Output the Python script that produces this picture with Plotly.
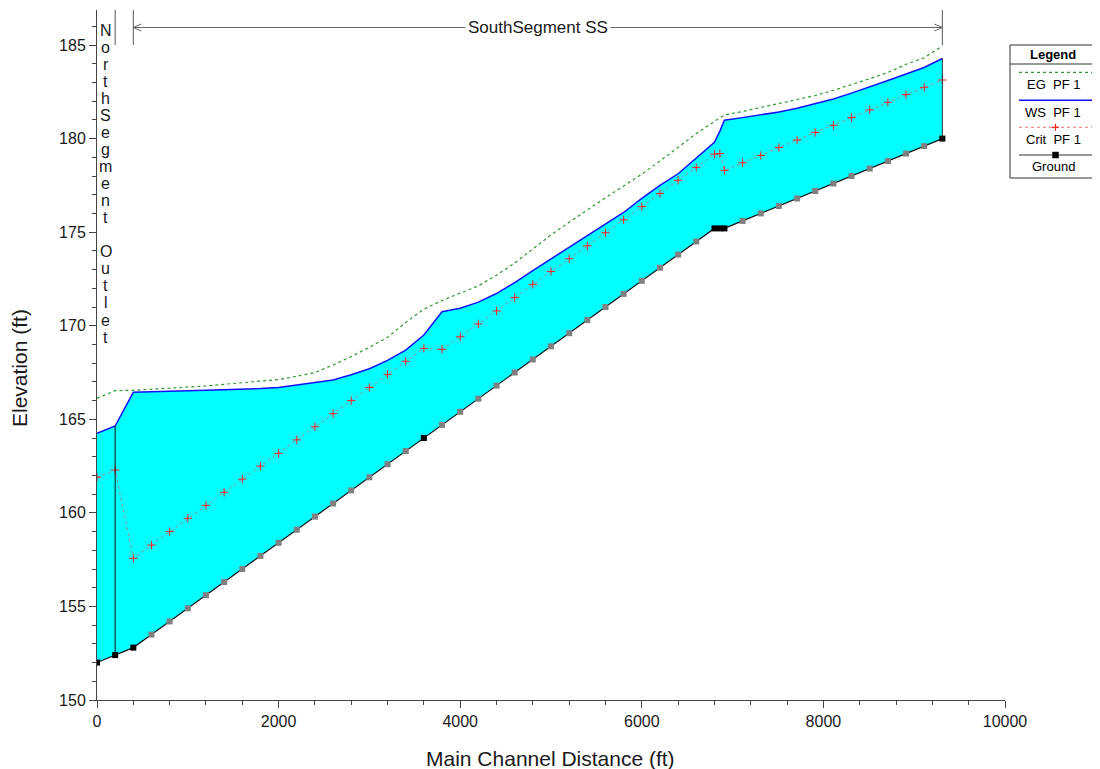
import plotly.graph_objects as go

# ---------------- data ----------------
distance = [0, 200, 400, 600, 800, 1000, 1200, 1400, 1600, 1800, 2000, 2200, 2400, 2600,
            2800, 3000, 3200, 3400, 3600, 3800, 4000, 4200, 4400, 4600, 4800, 5000, 5200,
            5400, 5600, 5800, 6000, 6200, 6400, 6600, 6800, 6860, 6910, 7110, 7310, 7510,
            7710, 7910, 8110, 8310, 8510, 8710, 8910, 9110, 9310]

ground = [152.0, 152.4, 152.8, 153.5, 154.2, 154.9, 155.6, 156.3, 157.0, 157.7, 158.4, 159.1,
          159.8, 160.5, 161.2, 161.9, 162.6, 163.3, 164.0, 164.7, 165.4, 166.1, 166.8, 167.5,
          168.2, 168.9, 169.6, 170.3, 171.0, 171.7, 172.4, 173.1, 173.8, 174.5, 175.2, 175.2,
          175.2, 175.6, 176.0, 176.4, 176.8, 177.2, 177.6, 178.0, 178.4, 178.8, 179.2, 179.6,
          180.0]

ws = [164.25, 164.64, 166.44, 166.48, 166.51, 166.53, 166.55, 166.57, 166.6, 166.64, 166.7,
      166.82, 166.95, 167.1, 167.38, 167.7, 168.15, 168.7, 169.5, 170.75, 170.93, 171.26,
      171.72, 172.3, 172.95, 173.57, 174.17, 174.77, 175.4, 176.05, 176.8, 177.5, 178.12,
      178.95, 179.8, 180.4, 180.98, 181.12, 181.25, 181.42, 181.62, 181.85, 182.12, 182.43,
      182.75, 183.1, 183.45, 183.8, 184.28]

eg = [166.12, 166.53, 166.55, 166.6, 166.65, 166.72, 166.78, 166.87, 166.95, 167.03, 167.12,
      167.3, 167.5, 167.9, 168.35, 168.85, 169.38, 170.18, 170.88, 171.35, 171.72, 172.13,
      172.7, 173.35, 174.1, 174.85, 175.53, 176.2, 176.84, 177.47, 178.1, 178.8, 179.55,
      180.27, 180.92, 181.1, 181.26, 181.45, 181.66, 181.85, 182.05, 182.3, 182.58, 182.87,
      183.2, 183.53, 183.97, 184.32, 184.95]

crit = [161.9, 162.29, 157.57, 158.28, 159.0, 159.71, 160.4, 161.1, 161.8, 162.5, 163.18,
        163.9, 164.6, 165.3, 166.0, 166.7, 167.4, 168.1, 168.79, 168.74, 169.41, 170.1,
        170.79, 171.5, 172.21, 172.9, 173.58, 174.27, 174.97, 175.66, 176.36, 177.07,
        177.77, 178.46, 179.17, 179.2, 178.3, 178.71, 179.1, 179.53, 179.92, 180.33, 180.71,
        181.12, 181.53, 181.94, 182.35, 182.74, 183.13]

named_sections = [0, 200, 400, 3600, 6800, 6860, 6910, 9310]

north_label = "NorthSegment Outlet"
north_start, north_end = 0, 200
south_label = "SouthSegment SS"
south_start, south_end = 400, 9310

legend_items = ["EG  PF 1", "WS  PF 1", "Crit  PF 1", "Ground"]

x_ticks = [0, 2000, 4000, 6000, 8000, 10000]
x_tick_text = ["0", "2000", "4000", "6000", "8000", "10000"]
y_ticks = [150, 155, 160, 165, 170, 175, 180, 185]

# ---------------- layout geometry ----------------
# page body has an 8px default margin; reference pixel coords are shifted by it
OFF = 8
W, H = 1100 - OFF, 769
PL, PR, PT, PB = 97, 1005, 10, 700          # plot area in reference pixels
PW, PH = PR - PL, PB - PT
ML, MT = PL - OFF, PT - OFF
MR = W - ML - PW
MB = H - MT - PH
Y0 = 150
YTOP = 150 + PH / 18.714

def pxp(px, py):
    return (px - PL) / PW, (PB - py) / PH

FONT = "Liberation Sans, Arial, sans-serif"
TXT = "#1a1a1a"

fig = go.Figure()

# water fill base
fig.add_trace(go.Scatter(x=distance, y=ground, mode="lines", line=dict(width=0, color="rgba(0,0,0,0)"),
                         hoverinfo="skip", showlegend=False))
fig.add_trace(go.Scatter(x=distance, y=ws, mode="lines", fill="tonexty", fillcolor="#00ffff",
                         line=dict(color="#1010ff", width=1.5), name="WS  PF 1", showlegend=False))
fig.add_trace(go.Scatter(x=distance, y=eg, mode="lines", line=dict(color="#2e9a2e", width=1.2, dash="dot"),
                         name="EG  PF 1", showlegend=False))
fig.add_trace(go.Scatter(x=distance, y=crit, mode="lines+markers",
                         line=dict(color="rgba(190,120,120,0.85)", width=1, dash="dot"),
                         marker=dict(symbol="cross-thin", size=6, line=dict(color="#ff2020", width=1)),
                         name="Crit  PF 1", showlegend=False))
fig.add_trace(go.Scatter(x=distance, y=ground, mode="lines", line=dict(color="#111111", width=1.2),
                         name="Ground", showlegend=False))
gx = [d for d in distance if d not in named_sections]
gy = [g for d, g in zip(distance, ground) if d not in named_sections]
fig.add_trace(go.Scatter(x=gx, y=gy, mode="markers",
                         marker=dict(symbol="square", size=6, color="#808080"), showlegend=False))
nx = [d for d in distance if d in named_sections]
ny = [g for d, g in zip(distance, ground) if d in named_sections]
fig.add_trace(go.Scatter(x=nx, y=ny, mode="markers",
                         marker=dict(symbol="square", size=6, color="#000000"), showlegend=False))

shapes = []
annotations = []

# junction line and right edge
i200 = distance.index(north_end)
shapes.append(dict(type="line", xref="x", yref="y", x0=north_end, x1=north_end,
                   y0=ground[i200], y1=ws[i200], line=dict(color="#111", width=1)))
shapes.append(dict(type="line", xref="x", yref="y", x0=distance[-1], x1=distance[-1],
                   y0=ground[-1], y1=ws[-1], line=dict(color="#333", width=1)))

# reach brackets
br_top, br_bot = 1.0, pxp(0, 45)[1]
for xv in (north_end, south_start, south_end):
    shapes.append(dict(type="line", xref="x", yref="paper", x0=xv, x1=xv, y0=br_top, y1=br_bot,
                       line=dict(color="#555", width=1)))
arrow_y = 150 + (PB - 27.5) / 18.714
shapes.append(dict(type="line", xref="x", yref="y", x0=south_start, x1=south_end, y0=arrow_y, y1=arrow_y,
                   line=dict(color="#666", width=1)))
ax_len = 8 * 10000 / PW
ay_len = 3.5 / 18.714
shapes.append(dict(type="path", xref="x", yref="y",
                   path=f"M {south_start+ax_len},{arrow_y+ay_len} L {south_start},{arrow_y} L {south_start+ax_len},{arrow_y-ay_len}",
                   line=dict(color="#666", width=1)))
shapes.append(dict(type="path", xref="x", yref="y",
                   path=f"M {south_end-ax_len},{arrow_y+ay_len} L {south_end},{arrow_y} L {south_end-ax_len},{arrow_y-ay_len}",
                   line=dict(color="#666", width=1)))
annotations.append(dict(x=(south_start + south_end) / 2, y=arrow_y, xref="x", yref="y", text=south_label,
                        showarrow=False, bgcolor="white", font=dict(family=FONT, size=17, color=TXT),
                        borderpad=2, xanchor="center", yanchor="middle"))

# vertical north label
for i, ch in enumerate(north_label):
    if ch == " ":
        continue
    py = 30 + i * 17.06
    annotations.append(dict(x=(north_start + north_end) / 2 - 3, y=pxp(0, py)[1], xref="x", yref="paper",
                            text=ch, showarrow=False, xanchor="center", yanchor="middle",
                            font=dict(family=FONT, size=16, color=TXT)))

# axis titles
annotations.append(dict(x=pxp(550, 0)[0], y=pxp(0, 758)[1], xref="paper", yref="paper",
                        text="Main Channel Distance (ft)", showarrow=False, xanchor="center", yanchor="middle",
                        font=dict(family=FONT, size=21, color=TXT)))
annotations.append(dict(x=pxp(19, 0)[0], y=pxp(0, 368)[1], xref="paper", yref="paper",
                        text="Elevation (ft)", showarrow=False, textangle=-90, xanchor="center", yanchor="middle",
                        font=dict(family=FONT, size=21, color=TXT)))

# manual legend
lx0, lx1, ly0, ly1 = 1010, 1096, 45, 178
a0 = pxp(lx0, ly0); a1 = pxp(lx1, ly1)
shapes.append(dict(type="rect", xref="paper", yref="paper", x0=a0[0], y0=a0[1], x1=a1[0], y1=a1[1],
                   line=dict(color="#333", width=1), fillcolor="white", layer="above"))
h = pxp(0, 64)[1]
shapes.append(dict(type="line", xref="paper", yref="paper", x0=a0[0], x1=a1[0], y0=h, y1=h,
                   line=dict(color="#333", width=1)))
cx = (lx0 + lx1) / 2
annotations.append(dict(x=pxp(cx, 0)[0], y=pxp(0, 54)[1], xref="paper", yref="paper", text="<b>Legend</b>",
                        showarrow=False, xanchor="center", yanchor="middle",
                        font=dict(family=FONT, size=13, color="#000")))
seg0, seg1 = pxp(1019, 0)[0], pxp(1093, 0)[0]
styles = [dict(color="#2e9a2e", width=1.2, dash="dot"), dict(color="#1010ff", width=1.5),
          dict(color="rgba(230,100,100,0.9)", width=1, dash="dot"), dict(color="#777", width=1.5)]
line_py = [72.3, 100.3, 127.3, 155]
text_py = [84.5, 112.5, 139.5, 166.5]
for name, st, lp, tp in zip(legend_items, styles, line_py, text_py):
    yy = pxp(0, lp)[1]
    shapes.append(dict(type="line", xref="paper", yref="paper", x0=seg0, x1=seg1, y0=yy, y1=yy, line=st))
    annotations.append(dict(x=pxp(cx, 0)[0], y=pxp(0, tp)[1], xref="paper", yref="paper", text=name,
                            showarrow=False, xanchor="center", yanchor="middle",
                            font=dict(family=FONT, size=13, color="#000")))
# crit marker in legend
mcx = 1055.5
for (dx0, dy0, dx1, dy1) in [(-3.5, 0, 3.5, 0), (0, -3.5, 0, 3.5)]:
    p0 = pxp(mcx + dx0, line_py[2] + dy0); p1 = pxp(mcx + dx1, line_py[2] + dy1)
    shapes.append(dict(type="line", xref="paper", yref="paper", x0=p0[0], y0=p0[1], x1=p1[0], y1=p1[1],
                       line=dict(color="#ff2020", width=1.2)))
# ground marker in legend
p0 = pxp(mcx - 3, line_py[3] - 3); p1 = pxp(mcx + 3, line_py[3] + 3)
shapes.append(dict(type="rect", xref="paper", yref="paper", x0=p0[0], y0=p0[1], x1=p1[0], y1=p1[1],
                   line=dict(color="#000", width=0.5), fillcolor="#000"))

axis_common = dict(showline=True, linecolor="#444", linewidth=1, ticks="outside", tickcolor="#444",
                   showgrid=False, zeroline=False, mirror=False,
                   tickfont=dict(family=FONT, size=16, color=TXT))

fig.update_layout(
    width=W, height=H, margin=dict(l=ML, r=MR, t=MT, b=MB, autoexpand=False),
    paper_bgcolor="white", plot_bgcolor="white", showlegend=False,
    xaxis=dict(range=[0, 10000], tickvals=x_ticks, ticktext=x_tick_text, ticklen=7,
               minor=dict(dtick=400, tick0=0, ticklen=4, ticks="outside", tickcolor="#444", showgrid=False),
               **axis_common),
    yaxis=dict(range=[Y0, YTOP], tickvals=y_ticks, ticklen=7,
               minor=dict(dtick=1, tick0=150, ticklen=4, ticks="outside", tickcolor="#444", showgrid=False),
               **axis_common),
    shapes=shapes, annotations=annotations,
)

fig.write_html("out.html")
